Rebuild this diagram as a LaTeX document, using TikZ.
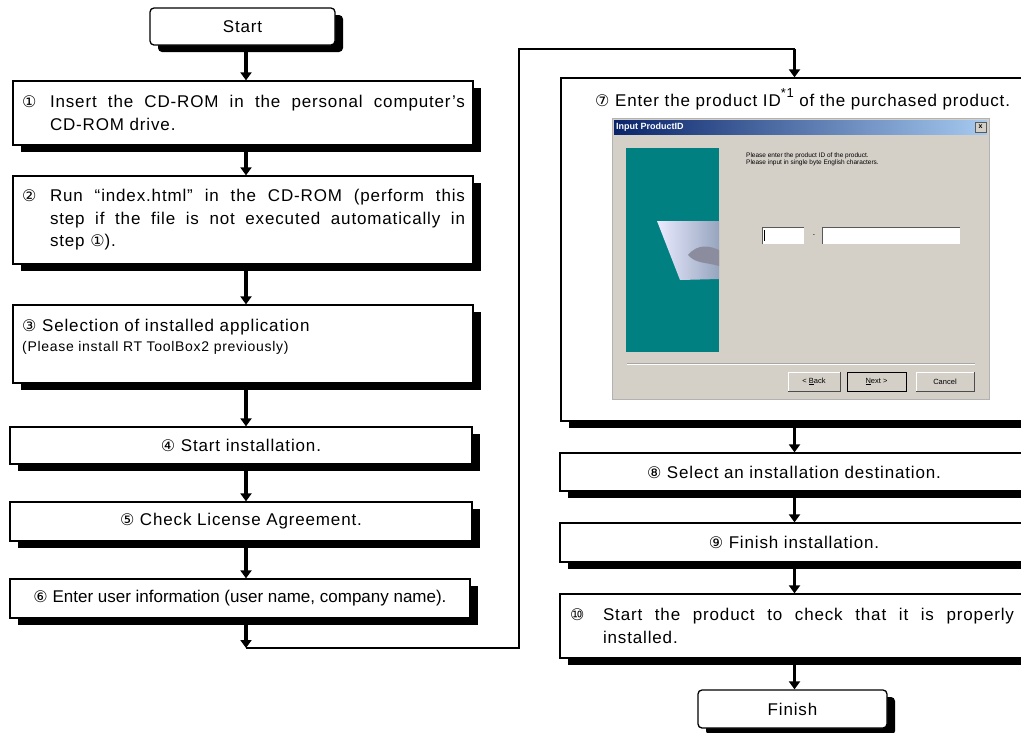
\documentclass[tikz,border=0pt]{standalone}
\usepackage{fontspec}
\setmainfont{Liberation Sans}[LetterSpace=5]
\newfontfamily\plainsans{Liberation Sans}
\newfontfamily\dvs{DejaVu Sans}
\usetikzlibrary{arrows.meta,shadows,calc}
\newcommand\cn[1]{{\dvs\fontsize{16}{16}\selectfont #1}}
\newcommand\bt{\fontsize{17}{22.5}\selectfont}
\definecolor{dlg}{RGB}{212,208,200}
\definecolor{tealp}{RGB}{0,128,128}
\definecolor{tbl}{RGB}{10,36,106}
\definecolor{tbr}{RGB}{166,202,240}
\begin{document}
\begin{tikzpicture}[x=1pt,y=-1pt,
  box/.style={draw=black, line width=1.3pt, fill=white, inner sep=0pt,
     drop shadow={shadow xshift=8pt, shadow yshift=-7pt, fill=black, opacity=1},
     font=\bt},
  term/.style={box, rounded corners=4pt},
  arr/.style={line width=3.2pt, -{Triangle[width=11pt,length=8pt]}},
  thinline/.style={line width=1.6pt},
  txt/.style={inner sep=0pt, font=\bt},
  tiny/.style={inner sep=0pt, font=\plainsans\fontsize{6.5}{7.5}\selectfont},
  btnlbl/.style={inner sep=0pt, font=\plainsans\fontsize{7.5}{8}\selectfont}]
\useasboundingbox (0,0) rectangle (1021,732);

% ---------- left column ----------
\node[term, minimum width=185pt, minimum height=37pt] (start) at (242.5,26.5) {Start};
\node[box, minimum width=460pt, minimum height=64pt] (b1) at (243,113)
 {\hspace*{9pt}\makebox[28pt][l]{\cn{①}}\parbox[t]{415pt}{\bt Insert the CD-ROM in the personal computer's\linebreak CD-ROM drive.}\hspace*{8pt}};
\node[box, minimum width=460pt, minimum height=88pt] (b2) at (243,220)
 {\hspace*{9pt}\makebox[28pt][l]{\cn{②}}\parbox[t]{415pt}{\bt Run “index.html” in the CD-ROM (perform this\linebreak step if the file is not executed automatically in\linebreak step \cn{①}).}\hspace*{8pt}};
\node[box, minimum width=460pt, minimum height=78pt] (b3) at (243,344) {};
\node[txt, anchor=base west] (b3t) at (22,331) {\cn{③} Selection of installed application};
\node[txt, anchor=base west, font=\fontsize{14}{16}\selectfont] (b3n) at (22,351) {(Please install RT ToolBox2 previously)};
\node[box, minimum width=462pt, minimum height=37pt] (b4) at (241,445.5) {\cn{④}\ Start installation.};
\node[box, minimum width=462pt, minimum height=39pt] (b5) at (241,521.5) {\cn{⑤}\ Check License Agreement.};
\node[box, minimum width=460pt, minimum height=39pt] (b6) at (240,598.5) {\addfontfeature{LetterSpace=0}\cn{⑥}\ Enter user information (user name, company name).};

% ---------- right column ----------
\node[box, minimum width=467pt, minimum height=343pt] (b7) at (794.5,249.5) {};
\node[txt, anchor=base west] (b7t) at (595,106) {\cn{⑦}\ Enter the product ID\raisebox{9pt}{\fontsize{13}{13}\selectfont *1} of the purchased product.};
\node[box, minimum width=468pt, minimum height=38pt] (b8) at (794,472) {\cn{⑧}\ Select an installation destination.};
\node[box, minimum width=468pt, minimum height=39pt] (b9) at (794,542.5) {\cn{⑨}\ Finish installation.};
\node[box, minimum width=468pt, minimum height=64pt] (b10) at (794,626)
 {\hspace*{10pt}\makebox[33pt][l]{\cn{⑩}}\parbox[t]{411pt}{\bt Start the product to check that it is properly\linebreak installed.}\hspace*{14pt}};
\node[term, minimum width=189pt, minimum height=38pt] (finish) at (792.5,709) {Finish};

% ---------- dialog screenshot ----------
\fill[dlg] (612,118) rectangle (989,399);
\draw[gray!60, line width=0.6pt] (612,118) rectangle (989,399);
\shade[left color=tbl, right color=tbr] (614,120) rectangle (987,134);
\node[anchor=west, inner sep=0pt, text=white, font=\plainsans\bfseries\fontsize{9}{10}\selectfont] (dtitle) at (616,127) {Input ProductID};
\fill[dlg] (975,122) rectangle (986,132);
\draw[gray!70!black, line width=0.4pt] (975,122) rectangle (986,132);
\node[inner sep=0pt, font=\plainsans\bfseries\fontsize{7}{7}\selectfont] (dclose) at (980.5,127) {x};
\fill[tealp] (626,148) rectangle (719,352);
\shade[left color=white!92!blue, right color={rgb,255:red,150;green,165;blue,190}]
  (657,221) -- (719,221) -- (719,279) -- (680,280) -- cycle;
\fill[white!70!blue!25!gray] (688,255) .. controls (698,243) and (710,246) .. (719,250) -- (719,266) .. controls (706,262) and (696,264) .. (688,255);
\node[tiny, anchor=west] (dl1) at (746,156) {Please enter the product ID of the product.};
\node[tiny, anchor=west] (dl2) at (746,163) {Please input in single byte English characters.};
\fill[white] (762,227) rectangle (804,244);
\draw[gray!70!black, line width=0.6pt] (762,244) -- (762,227) -- (804,227);
\draw[black, line width=0.6pt] (764,230) -- (764,241);
\node[tiny] (ddash) at (814,236) {-};
\fill[white] (822,227) rectangle (960,244);
\draw[gray!70!black, line width=0.6pt] (822,244) -- (822,227) -- (960,227);
\draw[gray!70, line width=0.6pt] (627,363) -- (975,363);
\draw[white, line width=0.6pt] (627,364.2) -- (975,364.2);
\fill[dlg] (788,372) rectangle (840,391);
\draw[white, line width=0.6pt] (788,391) -- (788,372) -- (840,372);
\draw[gray!60!black, line width=0.6pt] (840,372) -- (840,391) -- (788,391);
\node[btnlbl] (dback) at (814,381.5) {< \underline{B}ack};
\fill[dlg] (847,372) rectangle (906,391);
\draw[black, line width=0.8pt] (847,372) rectangle (906,391);
\node[btnlbl] (dnext) at (876.5,381.5) {\underline{N}ext >};
\fill[dlg] (916,372) rectangle (974,391);
\draw[white, line width=0.6pt] (916,391) -- (916,372) -- (974,372);
\draw[gray!60!black, line width=0.6pt] (974,372) -- (974,391) -- (916,391);
\node[btnlbl] (dcancel) at (945,381.5) {Cancel};

% ---------- connectors ----------
\draw[arr] (start.south -| 246,0) -- (b1.north -| 246,0);
\draw[arr] (b1.south -| 246,0) -- (b2.north -| 246,0);
\draw[arr] (b2.south -| 246,0) -- (b3.north -| 246,0);
\draw[arr] (b3.south -| 246,0) -- (b4.north -| 246,0);
\draw[arr] (b4.south -| 246,0) -- (b5.north -| 246,0);
\draw[arr] (b5.south -| 246,0) -- (b6.north -| 246,0);
\coordinate (c1) at (246,648);
\coordinate (c2) at (519,648);
\coordinate (c3) at (519,49);
\draw[arr] (b6.south -| c1) -- (c1);
\draw[thinline] (c1) -- (c2) -- (c3) -- (c3 -| b7.north) coordinate (c4);
\draw[arr] (c4) -- (b7.north);
\draw[arr] (b7.south) -- (b8.north -| b7.south);
\draw[arr] (b8.south -| b7.south) -- (b9.north -| b7.south);
\draw[arr] (b9.south -| b7.south) -- (b10.north -| b7.south);
\draw[arr] (b10.south -| b7.south) -- (finish.north -| b7.south);
\end{tikzpicture}
\end{document}
